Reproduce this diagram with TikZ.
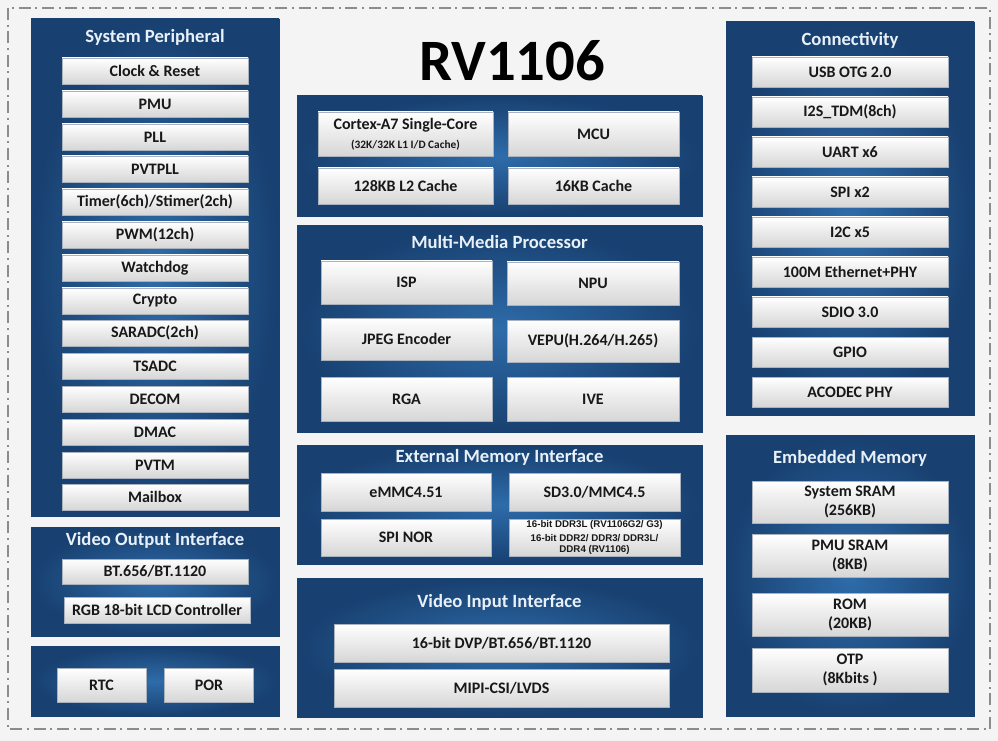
\documentclass[tikz,border=0pt]{standalone}
\usepackage{fontspec}
\setmainfont{Carlito}
\newfontfamily\ddrfont{Liberation Sans}
\usepackage{tikz}

\definecolor{blkdark}{RGB}{24,64,112}
\definecolor{blklight}{RGB}{46,108,170}
\definecolor{boxbot}{RGB}{214,214,214}
\definecolor{boxline}{RGB}{170,178,190}
\definecolor{bggray}{RGB}{244,244,244}
\definecolor{framegray}{RGB}{140,140,140}
\definecolor{ttlwhite}{RGB}{232,240,248}
\definecolor{boxtext}{RGB}{24,24,24}

\begin{document}
\begin{tikzpicture}[x=0.75pt,y=0.75pt,yscale=-1,xscale=1,
    sz/.style 2 args={minimum width=#1*0.75pt, minimum height=#2*0.75pt},
    blk/.style={inner sep=0pt, outer sep=0pt, draw=blkdark, line width=0.6pt, outer color=blkdark, inner color=blklight},
    sbox/.style={inner sep=0pt, outer sep=0pt, draw=boxline, line width=0.4pt, top color=white, bottom color=boxbot, text=boxtext, align=center, font=\fontsize{12}{14}\selectfont\bfseries},
    ttl/.style={inner sep=0.75pt, text=ttlwhite, font=\fontsize{14}{16}\selectfont\bfseries}]

  \useasboundingbox (0,0) rectangle (998,741);
  %Background
  \fill[bggray] (0,0) rectangle (998,741);
  %Dash-dot frame
  \draw[framegray, line width=1pt, dash pattern=on 9pt off 3.5pt on 1.5pt off 3.5pt] (8,8) rectangle (990,729);

  % Text Node
  \node[inner sep=0pt, font=\fontsize{44}{48}\selectfont\bfseries] (chip) at (512,61) {RV1106};

  %System Peripheral
  \node[blk, sz={248}{497}] (sysblk) at (155,267.5) {};
  \node[ttl] (systtl) at (155,37) {System Peripheral};
  \node[sbox, sz={186}{26}] (clk) at (155,71) {Clock \& Reset};
  \node[sbox, sz={186}{26}] (pmu) at (155,104) {PMU};
  \node[sbox, sz={186}{26}] (pll) at (155,137) {PLL};
  \node[sbox, sz={186}{26}] (pvtpll) at (155,169) {PVTPLL};
  \node[sbox, sz={186}{26}] (timer) at (155,202) {Timer(6ch)/Stimer(2ch)};
  \node[sbox, sz={186}{26}] (pwm) at (155,235) {PWM(12ch)};
  \node[sbox, sz={186}{26}] (wdt) at (155,268) {Watchdog};
  \node[sbox, sz={186}{26}] (crypto) at (155,301) {Crypto};
  \node[sbox, sz={186}{26}] (saradc) at (155,333) {SARADC(2ch)};
  \node[sbox, sz={186}{26}] (tsadc) at (155,366) {TSADC};
  \node[sbox, sz={186}{26}] (decom) at (155,399) {DECOM};
  \node[sbox, sz={186}{26}] (dmac) at (155,432) {DMAC};
  \node[sbox, sz={186}{26}] (pvtm) at (155,465) {PVTM};
  \node[sbox, sz={186}{26}] (mbox) at (155,497) {Mailbox};

  %Video Output Interface
  \node[blk, sz={248}{109}] (voblk) at (155,581.5) {};
  \node[ttl] (vottl) at (155,540) {Video Output Interface};
  \node[sbox, sz={186}{25}] (btout) at (155,571.5) {BT.656/BT.1120};
  \node[sbox, sz={186}{26}] (lcdc) at (157,610) {RGB 18-bit LCD Controller};

  %RTC / POR
  \node[blk, sz={248}{70}] (rtcblk) at (155,681) {};
  \node[sbox, sz={89}{34}] (rtc) at (101.5,685) {RTC};
  \node[sbox, sz={89}{34}] (por) at (209,685) {POR};

  %CPU
  \node[blk, sz={405}{120}] (cpublk) at (499.5,156) {};
  \node[sbox, sz={175}{44}] (cortex) at (405.5,134) {Cortex-A7 Single-Core\\[0pt]{\fontsize{8.5}{10}\selectfont (32K/32K L1 I/D Cache)}};
  \node[sbox, sz={171}{44}] (mcu) at (593.5,134) {MCU};
  \node[sbox, sz={175}{36}] (ltwo) at (405.5,186) {128KB L2 Cache};
  \node[sbox, sz={171}{36}] (mcucache) at (593.5,186) {16KB Cache};

  %Multi-Media Processor
  \node[blk, sz={405}{206}] (mmblk) at (499.5,329) {};
  \node[ttl] (mmttl) at (499.5,242) {Multi-Media Processor};
  \node[sbox, sz={171}{43}] (isp) at (406.5,282.5) {ISP};
  \node[sbox, sz={172}{43}] (npu) at (593,283.5) {NPU};
  \node[sbox, sz={171}{42}] (jpeg) at (406.5,339) {JPEG Encoder};
  \node[sbox, sz={172}{42}] (vepu) at (593,341) {VEPU(H.264/H.265)};
  \node[sbox, sz={171}{44}] (rga) at (406.5,399) {RGA};
  \node[sbox, sz={172}{44}] (ive) at (593,399) {IVE};

  %External Memory Interface
  \node[blk, sz={405}{119}] (emiblk) at (499.5,504.5) {};
  \node[ttl] (emittl) at (499.5,457) {External Memory Interface};
  \node[sbox, sz={170}{38}] (emmc) at (406,492) {eMMC4.51};
  \node[sbox, sz={171}{38}] (sdmmc) at (594.5,492) {SD3.0/MMC4.5};
  \node[sbox, sz={170}{37}] (spinor) at (406,537.5) {SPI NOR};
  \node[sbox, sz={171}{37}, font=\ddrfont\fontsize{7.3}{8.4}\selectfont\bfseries] (ddr) at (594.5,537.5) {16-bit DDR3L (RV1106G2/ G3)\\[1.5pt]16-bit DDR2/ DDR3/ DDR3L/\\DDR4 (RV1106)};

  %Video Input Interface
  \node[blk, sz={405}{139}] (viblk) at (499.5,647.5) {};
  \node[ttl] (vittl) at (499.5,602) {Video Input Interface};
  \node[sbox, sz={335}{38}] (dvp) at (501.5,643) {16-bit DVP/BT.656/BT.1120};
  \node[sbox, sz={335}{38}] (mipi) at (501.5,688) {MIPI-CSI/LVDS};

  %Connectivity
  \node[blk, sz={248}{393}] (conblk) at (850,218.5) {};
  \node[ttl] (conttl) at (850,40) {Connectivity};
  \node[sbox, sz={196}{30}] (usb) at (850,72) {USB OTG 2.0};
  \node[sbox, sz={196}{30}] (itwos) at (850,112) {I2S\_TDM(8ch)};
  \node[sbox, sz={196}{30}] (uart) at (850,152) {UART x6};
  \node[sbox, sz={196}{30}] (spi) at (850,192) {SPI x2};
  \node[sbox, sz={196}{30}] (itwoc) at (850,232) {I2C x5};
  \node[sbox, sz={196}{30}] (eth) at (850,272) {100M Ethernet+PHY};
  \node[sbox, sz={196}{30}] (sdio) at (850,312) {SDIO 3.0};
  \node[sbox, sz={196}{30}] (gpio) at (850,352) {GPIO};
  \node[sbox, sz={196}{30}] (acodec) at (850,392) {ACODEC PHY};

  %Embedded Memory
  \node[blk, sz={248}{281}] (embblk) at (850,575.5) {};
  \node[ttl] (embttl) at (850,458) {Embedded Memory};
  \node[sbox, sz={196}{42}] (sram) at (850,502) {System SRAM\\(256KB)};
  \node[sbox, sz={196}{43}] (pmusram) at (850,556) {PMU SRAM\\(8KB)};
  \node[sbox, sz={196}{43}] (rom) at (850,615) {ROM\\(20KB)};
  \node[sbox, sz={196}{44}] (otp) at (850,670) {OTP\\(8Kbits )};

\end{tikzpicture}
\end{document}
